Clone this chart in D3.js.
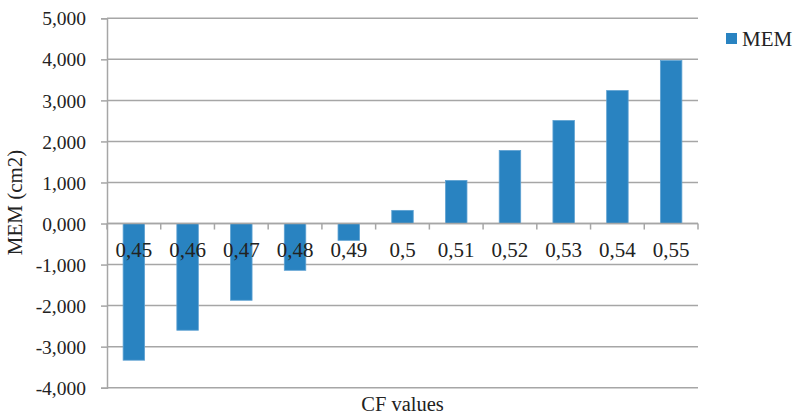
<!DOCTYPE html>
<html>
<head>
<meta charset="utf-8">
<script src="https://cdn.jsdelivr.net/npm/d3@7"></script>
<style>
  html, body { margin: 0; padding: 0; background: #fff; }
  svg { display: block; }
</style>
</head>
<body>
<svg id="chart" width="794" height="415" font-family="Liberation Serif"></svg>
<script>
// CF values on the category axis
const categories = ["0,45", "0,46", "0,47", "0,48", "0,49", "0,5", "0,51", "0,52", "0,53", "0,54", "0,55"];
// MEM (cm2) for each CF value
const memValues = [-3.33, -2.60, -1.87, -1.14, -0.41, 0.32, 1.05, 1.78, 2.51, 3.24, 3.97];
// value axis ticks
const yTicks = [-4, -3, -2, -1, 0, 1, 2, 3, 4, 5];
const seriesName = "MEM";
const xTitle = "CF values";
const yTitle = "MEM (cm2)";

const FONT = "Liberation Serif";
const TEXT = "#222";
const svg = d3.select("#chart");
const m = { left: 107, right: 698, top: 18.3, bottom: 387.7 };
const grid = "#a6a6a6";
const barColor = "#2983c1";

const x = d3.scaleBand().domain(categories).range([m.left, m.right]).paddingInner(0.6).paddingOuter(0.3);
const y = d3.scaleLinear().domain([-4, 5]).range([m.bottom, m.top]);
const fmtTick = v => d3.format(".3f")(v).replace(".", ",").replace("−", "-");

// horizontal gridlines
svg.append("g").selectAll("line").data(yTicks).join("line")
  .attr("x1", m.left).attr("x2", m.right)
  .attr("y1", d => y(d)).attr("y2", d => y(d))
  .attr("stroke", grid).attr("stroke-width", 1.5);

// value axis
const yAxis = d3.axisLeft(y).tickValues(yTicks).tickSize(6).tickPadding(15).tickFormat(fmtTick);
const gy = svg.append("g").attr("transform", `translate(${m.left},0)`).call(yAxis);
gy.attr("font-family", FONT).attr("font-size", 19.5);
gy.select(".domain").attr("stroke", grid).attr("stroke-width", 1.5);
gy.selectAll(".tick line").attr("stroke", grid).attr("stroke-width", 1.5);
gy.selectAll(".tick text").attr("font-size", 19.5).attr("dy", "0.34em")
  .attr("font-family", FONT).attr("fill", TEXT);

// bars
svg.append("g").selectAll("rect").data(memValues).join("rect")
  .attr("x", (d, i) => x(categories[i]))
  .attr("width", x.bandwidth())
  .attr("y", d => y(Math.max(0, d)))
  .attr("height", d => Math.abs(y(d) - y(0)))
  .attr("fill", barColor)
  .attr("stroke", "#5fa2d2").attr("stroke-width", 0.8);

// category axis on the zero line
const boundaries = d3.range(categories.length + 1).map(i => m.left + i * (m.right - m.left) / categories.length);
svg.append("line").attr("x1", m.left).attr("x2", m.right).attr("y1", y(0)).attr("y2", y(0))
  .attr("stroke", grid).attr("stroke-width", 1.5);
svg.append("g").selectAll("line").data(boundaries).join("line")
  .attr("x1", d => d).attr("x2", d => d).attr("y1", y(0)).attr("y2", y(0) + 6)
  .attr("stroke", grid).attr("stroke-width", 1.5);
svg.append("g").selectAll("text").data(categories).join("text")
  .attr("x", d => x(d) + x.bandwidth() / 2)
  .attr("y", y(0) + 33.5)
  .attr("text-anchor", "middle").attr("font-size", 21)
  .attr("font-family", FONT).attr("fill", TEXT)
  .text(d => d);

// axis titles
svg.append("text").attr("x", (m.left + m.right) / 2).attr("y", 411)
  .attr("text-anchor", "middle").attr("font-size", 20.5)
  .attr("font-family", FONT).attr("fill", TEXT).text(xTitle);
svg.append("text").attr("transform", `translate(22,${(m.top + m.bottom) / 2 - 0.5}) rotate(-90)`)
  .attr("text-anchor", "middle").attr("font-size", 21)
  .attr("font-family", FONT).attr("fill", TEXT).text(yTitle);

// legend
svg.append("rect").attr("x", 726).attr("y", 33).attr("width", 11).attr("height", 11).attr("fill", barColor);
svg.append("text").attr("x", 742).attr("y", 45.5).attr("font-size", 21)
  .attr("font-family", FONT).attr("fill", TEXT).text(seriesName);
</script>
</body>
</html>
